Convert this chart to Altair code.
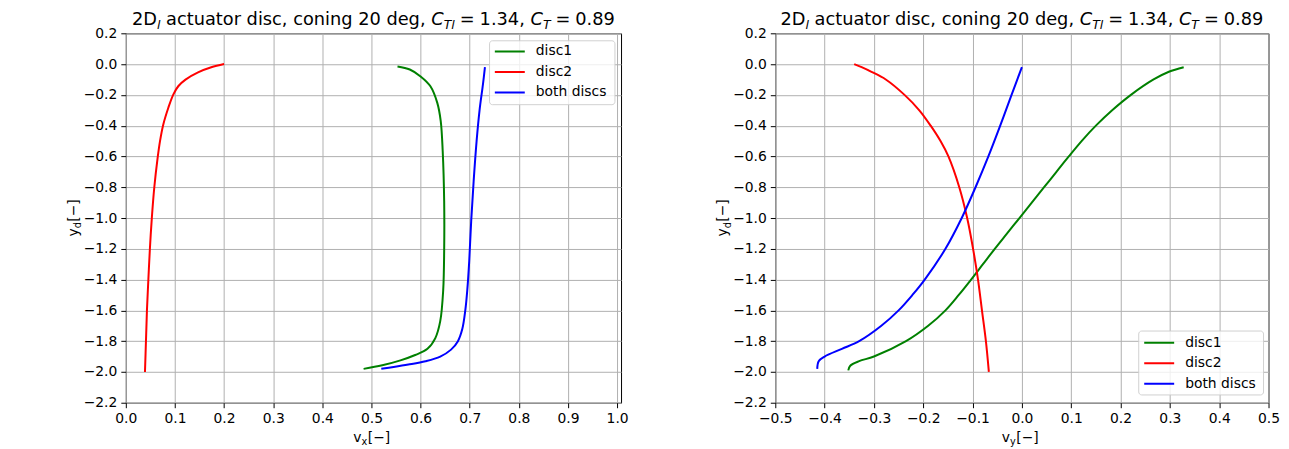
import altair as alt
import pandas as pd

FONT = "DejaVu Sans"
SERIES = ["disc1", "disc2", "both discs"]
COLORS = ["#008000", "#ff0000", "#0000ff"]

# ---------------- left panel: v_x vs y_d ----------------
l_disc1_vx = [0.553, 0.578, 0.600, 0.620, 0.634, 0.641, 0.645, 0.648, 0.648, 0.646,
              0.640, 0.630, 0.614, 0.589, 0.559, 0.522, 0.484]
l_disc1_yd = [-0.015, -0.035, -0.08, -0.144, -0.252, -0.37, -0.565, -0.89, -1.21, -1.47,
              -1.67, -1.78, -1.85, -1.89, -1.925, -1.957, -1.98]

l_disc2_vx = [0.2, 0.174, 0.147, 0.1215, 0.1067, 0.0966, 0.0864, 0.0763, 0.0696, 0.0648,
              0.058, 0.053, 0.049, 0.0459, 0.043, 0.041, 0.039]
l_disc2_yd = [0.0, -0.021, -0.054, -0.101, -0.144, -0.198, -0.285, -0.392, -0.5, -0.608,
              -0.8, -0.997, -1.2, -1.4, -1.6, -1.8, -2.0]

l_both_vx = [0.731, 0.727, 0.720, 0.714, 0.708, 0.703, 0.699, 0.695, 0.691, 0.685,
             0.676, 0.662, 0.640, 0.610, 0.575, 0.545, 0.520]
l_both_yd = [-0.02, -0.13, -0.3, -0.5, -0.76, -1.02, -1.28, -1.47, -1.6, -1.72,
             -1.8, -1.855, -1.9, -1.93, -1.952, -1.968, -1.98]

# ---------------- right panel: v_y vs y_d ----------------
r_disc1_vy = [-0.352, -0.348, -0.33, -0.30, -0.235, -0.19, -0.155, -0.128, -0.103,
              -0.079, -0.055, -0.03, -0.005, 0.02, 0.045, 0.07, 0.095, 0.121, 0.150,
              0.183, 0.221, 0.267, 0.298, 0.328]
r_disc1_yd = [-1.99, -1.96, -1.93, -1.9, -1.8, -1.7, -1.6, -1.5, -1.4,
              -1.3, -1.2, -1.1, -1.0, -0.9, -0.8, -0.7, -0.6, -0.5, -0.4,
              -0.3, -0.2, -0.1, -0.05, -0.02]

r_disc2_vy = [-0.34, -0.325, -0.305, -0.276, -0.238, -0.208, -0.185, -0.165, -0.149,
              -0.127, -0.111, -0.099, -0.089, -0.081, -0.073, -0.067]
r_disc2_yd = [0.0, -0.02, -0.05, -0.1, -0.2, -0.3, -0.4, -0.5, -0.6,
              -0.8, -1.0, -1.2, -1.4, -1.6, -1.8, -2.0]

r_both_vy = [0.0, -0.021, -0.044, -0.068, -0.094, -0.122, -0.155, -0.197, -0.222,
             -0.25, -0.285, -0.33, -0.365, -0.40, -0.412, -0.415]
r_both_yd = [-0.02, -0.2, -0.4, -0.6, -0.8, -1.0, -1.2, -1.4, -1.5,
             -1.6, -1.7, -1.8, -1.85, -1.9, -1.93, -1.98]

x_ticks_left = [0.0, 0.1, 0.2, 0.3, 0.4, 0.5, 0.6, 0.7, 0.8, 0.9, 1.0]
x_ticks_right = [-0.5, -0.4, -0.3, -0.2, -0.1, 0.0, 0.1, 0.2, 0.3, 0.4, 0.5]
y_ticks = [-2.2, -2.0, -1.8, -1.6, -1.4, -1.2, -1.0, -0.8, -0.6, -0.4, -0.2, 0.0, 0.2]


def frame(pairs):
    rows = []
    for name, xs, ys in pairs:
        for i, (a, b) in enumerate(zip(xs, ys)):
            rows.append({"series": name, "i": i, "v": a, "yd": b})
    return pd.DataFrame(rows)


left_df = frame([("disc1", l_disc1_vx, l_disc1_yd),
                 ("disc2", l_disc2_vx, l_disc2_yd),
                 ("both discs", l_both_vx, l_both_yd)])
right_df = frame([("disc1", r_disc1_vy, r_disc1_yd),
                  ("disc2", r_disc2_vy, r_disc2_yd),
                  ("both discs", r_both_vy, r_both_yd)])

H = 370
FS = 13.9          # tick / label font size
TS = 17.8          # title font size
ONE = pd.DataFrame({"k": [0]})

# DejaVu Sans advance widths (units per em = 2048)
ADV = {'2': 1303, 'D': 1577, ' ': 651, 'a': 1255, 'c': 1126, 't': 803, 'u': 1298,
       'o': 1253, 'r': 842, 'd': 1300, 'i': 569, 's': 1067, ',': 651, 'n': 1298,
       'g': 1300, '0': 1303, 'e': 1260, 'C': 1430, 'T': 1251, 'l': 569, '=': 1716,
       '1': 1303, '3': 1303, '4': 1303, '8': 1303, '9': 1303, '.': 651}


def tw(text, size):
    return sum(ADV.get(ch, 1200) for ch in text) / 2048 * size


def piece(text, x, y, size=FS, angle=0, style="normal"):
    return alt.Chart(ONE).mark_text(
        text=text, align="left", baseline="alphabetic", fontSize=size,
        font=FONT, color="black", angle=angle, fontStyle=style,
    ).encode(x=alt.value(x), y=alt.value(y))


def title_pieces(W):
    sub = 0.7 * TS
    drop = 0.24 * TS
    gap = 0.28 * TS
    parts = [("2D", TS, "normal", 0, 0), ("l", sub, "italic", drop, 0),
             (" actuator disc, coning 20 deg, ", TS, "normal", 0, 0),
             ("C", TS, "italic", 0, 0), ("Tl", sub, "italic", drop, 0),
             ("=", TS, "normal", 0, gap), ("1.34", TS, "normal", 0, gap),
             (", ", TS, "normal", 0, 0),
             ("C", TS, "italic", 0, 0), ("T", sub, "italic", drop, 0),
             ("=", TS, "normal", 0, gap), ("0.89", TS, "normal", 0, gap)]
    total = sum(tw(t, s) + g for t, s, _, _, g in parts)
    x = W / 2 - total / 2
    y0 = -8.8
    out = []
    for t, s, st, d, g in parts:
        x += g
        lead = len(t) - len(t.lstrip(" "))
        x += tw(" " * lead, s)
        body = t.strip(" ")
        out.append(piece(body, x, y0 + d, size=s, style=st))
        x += tw(t.lstrip(" "), s)
    return out


def x_title(sub, W):
    total = tw("v", FS) + tw("x", 0.7 * FS) + tw("[−]", FS) + 2
    x0 = W / 2 - total / 2
    y0 = H + 39.5
    return [piece("v", x0, y0), piece(sub, x0 + 8.2, y0 + 3.3, size=0.7 * FS),
            piece("[−]", x0 + 14.5, y0)]


def y_title(xb):
    y0 = H / 2 + 18.5
    return [piece("y", xb, y0, angle=270),
            piece("d", xb + 3.3, y0 - 8.2, size=0.7 * FS, angle=270),
            piece("[−]", xb, y0 - 14.8, angle=270)]


def legend_box(x1, x2, y1, y2):
    return alt.Chart(ONE).mark_rect(
        fill="white", fillOpacity=0.8, stroke="#cccccc", strokeOpacity=0.9,
        strokeWidth=1, cornerRadius=3,
    ).encode(x=alt.value(x1), x2=alt.value(x2), y=alt.value(y1), y2=alt.value(y2))


def panel(df, xdom, xticks, W, sub, box, lx, ly):
    lines = alt.Chart(df).mark_line(strokeWidth=2, interpolate="catmull-rom").encode(
        x=alt.X("v:Q", scale=alt.Scale(domain=xdom, nice=False, zero=False),
                axis=alt.Axis(values=xticks, format=".1f", title=None, labelFlush=False)),
        y=alt.Y("yd:Q", scale=alt.Scale(domain=[-2.2, 0.2], nice=False, zero=False),
                axis=alt.Axis(values=y_ticks, format=".1f", title=None)),
        color=alt.Color("series:N", scale=alt.Scale(domain=SERIES, range=COLORS),
                        legend=alt.Legend(
                            title=None, orient="none", legendX=lx, legendY=ly,
                            symbolType="stroke", symbolSize=900, symbolStrokeWidth=2,
                            labelFontSize=FS, labelFont=FONT, labelColor="black",
                            padding=0, clipHeight=18, rowPadding=2.5, labelOffset=10)),
        order=alt.Order("i:Q"),
    )
    layers = ([lines, legend_box(*box)] + title_pieces(W) + x_title(sub, W)
              + y_title(-48))
    return alt.layer(*layers).properties(width=W, height=H)


left = panel(left_df, [0, 1.008], x_ticks_left, 496, "x",
             (364.3, 489.9, 7.5, 71.5), 368.6, 9.2)
right = panel(right_df, [-0.5, 0.5], x_ticks_right, 494, "y",
              (364.0, 489.0, 298.2, 362.2), 368.5, 300.9)

chart = alt.hconcat(left, right, spacing=86.5).resolve_scale(
    color="independent").resolve_legend(color="independent").properties(
    padding={"left": 58, "top": 1, "right": 0, "bottom": 0}
).configure_view(stroke="black", strokeWidth=1).configure_axis(
    grid=True, gridColor="#b0b0b0", gridWidth=1, gridOpacity=1,
    domain=False, tickColor="black", tickSize=5, tickWidth=1,
    labelFont=FONT, labelFontSize=FS, labelColor="black", labelPadding=4,
    labelOverlap=False,
)

chart.save("out.html", embed_options={"renderer": "svg", "actions": False})
